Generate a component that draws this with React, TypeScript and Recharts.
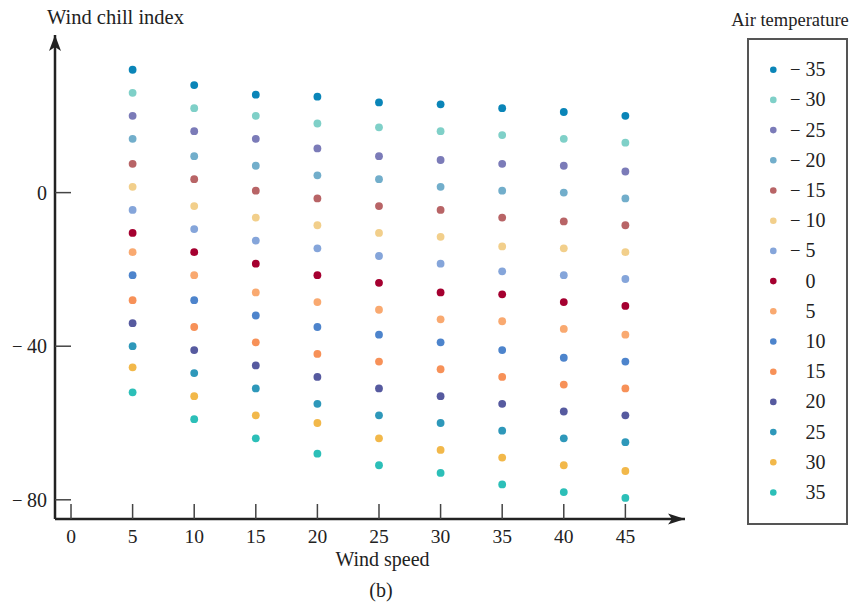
import React from 'react';
import { ScatterChart, Scatter, XAxis, YAxis, Legend, ReferenceDot } from 'recharts';

const FONT = '"Liberation Serif", "Times New Roman", serif';
const INK = '#222';

// wind speeds on the x axis
const windSpeeds = [5, 10, 15, 20, 25, 30, 35, 40, 45];
const xTicks = [0, 5, 10, 15, 20, 25, 30, 35, 40, 45];
const yTicks = [-80, -40, 0];

// legend labels, top to bottom
const airTemps = ['−35', '−30', '−25', '−20', '−15', '−10', '−5', '0', '5', '10', '15', '20', '25', '30', '35'];
const dotColors = [
  '#0a85b8', '#7fd0c8', '#7b7bb8', '#72aecb', '#b86466', '#f2cf8b', '#85a5da', '#a50030',
  '#f9a970', '#4d84cc', '#f79158', '#565a9f', '#2e98ba', '#f2b84a', '#2cbfb8',
];

// wind chill index, one row per air temperature, one value per wind speed
const chillRows: number[][] = [
  [32, 28, 25.5, 25, 23.5, 23, 22, 21, 20],
  [26, 22, 20, 18, 17, 16, 15, 14, 13],
  [20, 16, 14, 11.5, 9.5, 8.5, 7.5, 7, 5.5],
  [14, 9.5, 7, 4.5, 3.5, 1.5, 0.5, 0, -1.5],
  [7.5, 3.5, 0.5, -1.5, -3.5, -4.5, -6.5, -7.5, -8.5],
  [1.5, -3.5, -6.5, -8.5, -10.5, -11.5, -14, -14.5, -15.5],
  [-4.5, -9.5, -12.5, -14.5, -16.5, -18.5, -20.5, -21.5, -22.5],
  [-10.5, -15.5, -18.5, -21.5, -23.5, -26, -26.5, -28.5, -29.5],
  [-15.5, -21.5, -26, -28.5, -30.5, -33, -33.5, -35.5, -37],
  [-21.5, -28, -32, -35, -37, -39, -41, -43, -44],
  [-28, -35, -39, -42, -44, -46, -48, -50, -51],
  [-34, -41, -45, -48, -51, -53, -55, -57, -58],
  [-40, -47, -51, -55, -58, -60, -62, -64, -65],
  [-45.5, -53, -58, -60, -64, -67, -69, -71, -72.5],
  [-52, -59, -64, -68, -71, -73, -76, -78, -79.5],
];

const X_MIN = -1.3;
const X_MAX = 49.84;
const Y_MIN = -85;
const Y_MAX = 41.05;

const XTick = (props: any) => {
  const { x, payload } = props;
  const y = 519;
  return (
    <g>
      <line x1={x} x2={x} y1={y} y2={y - 15} stroke="#444" strokeWidth={1.5} />
      <text x={x} y={y + 24} textAnchor="middle" fontSize={19.5} fill={INK} fontFamily={FONT}>
        {payload.value}
      </text>
    </g>
  );
};

const YTick = (props: any) => {
  const { y, payload } = props;
  const x = 55;
  const v = payload.value;
  return (
    <g>
      <line x1={x} x2={x + 16} y1={y} y2={y} stroke="#444" strokeWidth={1.5} />
      <text x={x - 8} y={y + 7} textAnchor="end" fontSize={20} fill={INK} fontFamily={FONT}>
        {Math.abs(v)}
      </text>
      {v < 0 && (
        <text x={12} y={y + 7} fontSize={20} fill={INK} fontFamily={FONT} textLength={10.5} lengthAdjust="spacingAndGlyphs">
          −
        </text>
      )}
    </g>
  );
};

const LegendBox = () => (
  <svg width={140} height={530} style={{ display: 'block' }}>
    <text x={63} y={26} textAnchor="middle" fontSize={18.5} fill={INK} fontFamily={FONT}>Air temperature</text>
    <rect x={21} y={39} width={99} height={485} fill="none" stroke="#555" strokeWidth={2} />
    {airTemps.map((label, i) => {
      const cy = 69.7 + i * 30.2;
      const neg = label.startsWith('−');
      return (
        <g key={label}>
          <circle cx={46.3} cy={cy} r={3.3} fill={dotColors[i]} />
          {neg && (
            <text x={63} y={cy + 6.5} fontSize={20} fill={INK} fontFamily={FONT} textLength={10.5} lengthAdjust="spacingAndGlyphs">
              −
            </text>
          )}
          <text x={78.5} y={cy + 6.5} fontSize={20} fill={INK} fontFamily={FONT}>{label.replace('−', '')}</text>
        </g>
      );
    })}
  </svg>
);

const XArrow = (p: any) => (
  <path d={`M${p.cx},${p.cy} l-17,-5.5 l4,5.5 l-4,5.5 Z`} fill={INK} />
);
const YArrow = (p: any) => (
  <path d={`M${p.cx},${p.cy} l-6,16 l6,-4 l6,4 Z`} fill={INK} />
);

export default function App() {
  return (
    <div style={{ position: 'fixed', left: 0, top: 0, width: 867, height: 606, background: '#fff', fontFamily: FONT }}>
      <ScatterChart width={867} height={606} margin={{ top: 35, left: 54, right: 182, bottom: 86 }}>
        <XAxis
          dataKey="speed"
          type="number"
          domain={[X_MIN, X_MAX]}
          ticks={xTicks}
          interval={0}
          allowDataOverflow
          height={1}
          tickSize={0}
          tickMargin={0}
          axisLine={{ stroke: INK, strokeWidth: 2.5 }}
          tickLine={false}
          tick={<XTick />}
          label={{
            content: () => (
              <g>
                <text x={382.5} y={566} textAnchor="middle" fontSize={20} fill={INK} fontFamily={FONT}>Wind speed</text>
                <text x={381} y={597} textAnchor="middle" fontSize={20} fill={INK} fontFamily={FONT}>(b)</text>
              </g>
            ),
          }}
        />
        <YAxis
          dataKey="chill"
          type="number"
          domain={[Y_MIN, Y_MAX]}
          ticks={yTicks}
          interval={0}
          allowDataOverflow
          width={1}
          tickSize={0}
          tickMargin={0}
          axisLine={{ stroke: INK, strokeWidth: 2.5 }}
          tickLine={false}
          tick={<YTick />}
          label={{
            content: () => (
              <text x={47} y={24} fontSize={20.5} fill={INK} fontFamily={FONT}>
                Wind chill index
              </text>
            ),
          }}
        />
        {chillRows.map((row, i) => (
          <Scatter
            key={airTemps[i]}
            name={airTemps[i]}
            data={windSpeeds.map((s, j) => ({ speed: s, chill: row[j] }))}
            fill={dotColors[i]}
            legendType="circle"
            isAnimationActive={false}
            shape={(p: any) => <circle cx={p.cx} cy={p.cy} r={3.9} fill={dotColors[i]} />}
          />
        ))}
        <ReferenceDot x={X_MAX} y={Y_MIN} r={0} ifOverflow="visible" shape={<XArrow />} />
        <ReferenceDot x={X_MIN} y={Y_MAX} r={0} ifOverflow="visible" shape={<YArrow />} />
        <Legend
          layout="vertical"
          align="center"
          verticalAlign="middle"
          content={<LegendBox />}
          wrapperStyle={{ position: 'absolute', left: 727, top: 0, width: 140, height: 530 }}
        />
      </ScatterChart>
    </div>
  );
}
